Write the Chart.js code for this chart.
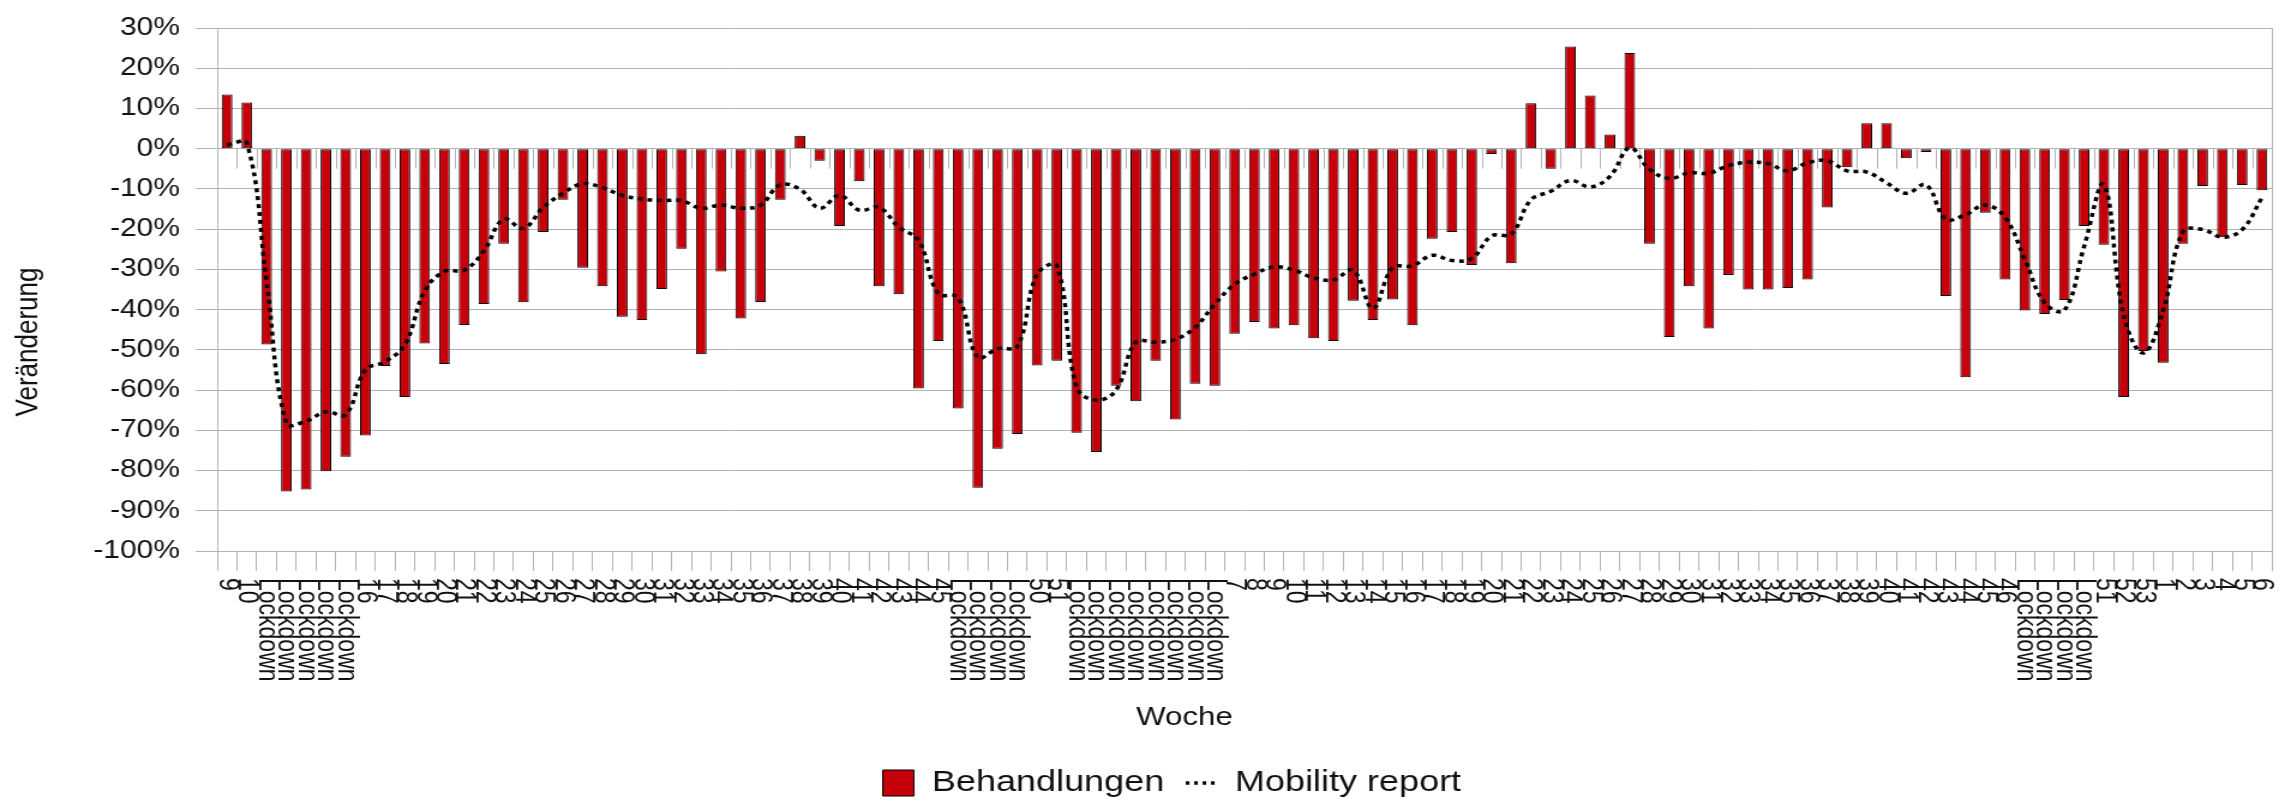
<!DOCTYPE html>
<html>
<head>
<meta charset="utf-8">
<script src="https://cdn.jsdelivr.net/npm/chart.js@4.4.1/dist/chart.umd.min.js"></script>
<style>
  html, body { margin: 0; padding: 0; background: #fff; overflow: hidden; }
</style>
</head>
<body>
<!-- the original is stretched sideways, so the canvas is drawn narrower and widened by its style -->
<canvas id="c" width="1904" height="803" style="display:block;width:2285px;height:803px"></canvas>
<script>
const weeks = [
  '9', '10', 'Lockdown', 'Lockdown', 'Lockdown', 'Lockdown', 'Lockdown',
  '16', '17', '18', '19', '20', '21', '22', '23', '24', '25', '26', '27', '28', '29', '30',
  '31', '32', '33', '34', '35', '36', '37', '38', '39', '40', '41', '42', '43', '44', '45',
  'Lockdown', 'Lockdown', 'Lockdown', 'Lockdown', '50', '51', 'Lockdown', 'Lockdown',
  'Lockdown', 'Lockdown', 'Lockdown', 'Lockdown', 'Lockdown', 'Lockdown',
  '7', '8', '9', '10', '11', '12', '13', '14', '15', '16', '17', '18', '19', '20', '21', '22', '23', '24', '25', '26',
  '27', '28', '29', '30', '31', '32', '33', '34', '35', '36', '37', '38', '39', '40', '41', '42', '43', '44', '45', '46',
  'Lockdown', 'Lockdown', 'Lockdown', 'Lockdown', '51', '52', '53',
  '1', '2', '3', '4', '5', '6'
];

const behandlungen = [
  13.5, 11.5, -48.7, -85.2, -84.7, -80.2, -76.6,
  -71.3, -54.0, -61.7, -48.4, -53.5, -43.8, -38.6, -23.6, -38.2, -20.7, -12.7, -29.6, -34.2, -41.8, -42.6,
  -34.9, -24.9, -51.1, -30.5, -42.2, -38.1, -12.7, 3.2, -3.0, -19.2, -8.1, -34.2, -36.2, -59.6, -47.8,
  -64.6, -84.3, -74.6, -70.9, -53.9, -52.7, -70.6, -75.4,
  -58.9, -62.8, -52.7, -67.3, -58.4, -58.9,
  -46.0, -43.1, -44.7, -43.9, -47.1, -47.8, -37.8, -42.6, -37.5, -43.9, -22.4, -20.7, -28.9, -1.3, -28.5, 11.3, -5.0, 25.4, 13.2, 3.5,
  23.8, -23.6, -46.8, -34.2, -44.7, -31.4, -35.0, -35.0, -34.6, -32.5, -14.6, -4.6, 6.3, 6.3, -2.4, -0.8, -36.6, -56.8, -15.9, -32.5,
  -40.2, -41.1, -37.6, -19.2, -23.9, -61.7, -50.3,
  -53.2, -23.6, -9.3, -22.0, -9.0, -10.3
];

const mobility = [
  1.0, 1.4, -33.0, -68.3, -67.7, -65.4, -66.1,
  -55.0, -52.9, -48.7, -35.4, -30.5, -30.2, -25.4, -17.5, -19.8, -14.6, -11.1, -8.7, -9.7, -11.6, -12.5,
  -12.9, -12.9, -14.8, -14.0, -14.8, -14.0, -9.0, -10.1, -14.8, -11.6, -15.3, -14.6, -19.5, -22.8, -36.0,
  -37.0, -51.9, -49.7, -49.2, -31.2, -29.1, -59.3, -62.5,
  -60.0, -48.1, -48.1, -47.4, -44.4, -38.6,
  -33.7, -31.2, -29.4, -30.2, -32.1, -32.6, -30.2, -39.7, -29.6, -29.1, -26.5, -27.8, -27.3, -21.7, -21.2, -12.7, -10.6, -7.9, -9.5, -6.9,
  0.2, -5.1, -7.4, -6.0, -6.1, -4.2, -3.4, -3.7, -5.5, -3.5, -3.0, -5.5, -5.8, -8.5, -11.1, -9.0, -17.5, -16.4, -14.0, -17.1,
  -27.5, -38.3, -40.2, -24.3, -9.0, -41.3, -50.8,
  -40.2, -20.6, -20.1, -22.0, -20.1, -12.2
];

const yMin = -100, yMax = 30, yStep = 10;

const GRID = '#b3b3b3';
const TEXT = '#111';
const FONT = '"Liberation Sans", Arial, sans-serif';

Chart.defaults.font.family = FONT;
Chart.defaults.color = TEXT;

// week labels read top-to-bottom in the original, chart.js only rotates the other way
const axisDecor = {
  id: 'axisDecor',
  beforeDatasetsDraw(chart) {
    const xs = chart.scales.x, ys = chart.scales.y, ctx = chart.ctx;
    const y0 = ys.getPixelForValue(0);
    ctx.save();
    ctx.strokeStyle = GRID;
    ctx.lineWidth = 1;
    ctx.beginPath();
    for (let i = 1; i < weeks.length; i++) {
      const bx = Math.round(xs.getPixelForValue(i - 0.5)) + 0.5;
      ctx.moveTo(bx, y0);
      ctx.lineTo(bx, y0 + 20);
    }
    ctx.stroke();
    ctx.restore();
  },
  afterDraw(chart) {
    const xs = chart.scales.x, ctx = chart.ctx;
    ctx.save();
    ctx.fillStyle = TEXT;
    ctx.font = '23px ' + FONT;
    ctx.textAlign = 'left';
    ctx.textBaseline = 'middle';
    const top = xs.top + 27;
    weeks.forEach((w, i) => {
      ctx.save();
      ctx.translate(xs.getPixelForValue(i), top);
      ctx.rotate(Math.PI / 2);
      ctx.fillText(w, 0, 0);
      ctx.restore();
    });

    ctx.font = '26px ' + FONT;
    ctx.textAlign = 'center';
    ctx.fillText('Woche', 987, 718);

    ctx.translate(24, 342);
    ctx.rotate(-Math.PI / 2);
    ctx.fillText('Veränderung', 0, 0);
    ctx.restore();
  }
};

new Chart(document.getElementById('c'), {
  data: {
    labels: weeks,
    datasets: [
      {
        type: 'bar',
        label: 'Behandlungen',
        data: behandlungen,
        backgroundColor: '#c5000b',
        borderColor: '#000',
        borderWidth: 1,
        borderSkipped: false,
        categoryPercentage: 1,
        barPercentage: 0.54,
        order: 1
      },
      {
        type: 'line',
        label: 'Mobility report',
        data: mobility,
        borderColor: '#000',
        backgroundColor: '#000',
        borderWidth: 3.5,
        borderDash: [4, 4],
        pointRadius: 0,
        tension: 0.4,
        fill: false,
        order: 0
      }
    ]
  },
  options: {
    responsive: false,
    devicePixelRatio: 1,
    animation: false,
    events: [],
    // left padding only nudges the centred legend; the y axis keeps the plot edge
    layout: { padding: { top: 18, right: 11, bottom: -5, left: 60 } },
    plugins: {
      tooltip: { enabled: false },
      legend: {
        position: 'bottom',
        labels: {
          usePointStyle: true,
          pointStyleWidth: 26,
          boxHeight: 26,
          padding: 18,
          color: TEXT,
          font: { size: 30 },
          sort: (a, b) => a.datasetIndex - b.datasetIndex,
          generateLabels(chart) {
            const items = Chart.defaults.plugins.legend.labels.generateLabels(chart);
            items.forEach(it => {
              it.pointStyle = it.datasetIndex === 0 ? 'rect' : 'line';
              if (it.datasetIndex === 1) it.lineDash = [3, 4];
            });
            return items;
          }
        }
      }
    },
    scales: {
      x: {
        type: 'category',
        offset: true,
        grid: { offset: true, drawOnChartArea: false, color: GRID, tickLength: 20 },
        border: { color: GRID },
        ticks: { display: false, autoSkip: false },
        afterFit(s) { s.height = 199; }
      },
      y: {
        min: yMin,
        max: yMax,
        grid: { color: GRID, tickLength: 18 },
        border: { color: GRID },
        ticks: {
          stepSize: yStep,
          padding: 13,
          font: { size: 25 },
          color: TEXT,
          callback: v => v + '%'
        },
        afterFit(s) { s.width = 121; }
      },
      y2: {
        position: 'right',
        min: yMin,
        max: yMax,
        grid: { drawOnChartArea: false, drawTicks: false },
        border: { color: GRID },
        ticks: { display: false },
        afterFit(s) { s.width = 0; }
      }
    }
  },
  plugins: [axisDecor]
});
</script>
</body>
</html>
